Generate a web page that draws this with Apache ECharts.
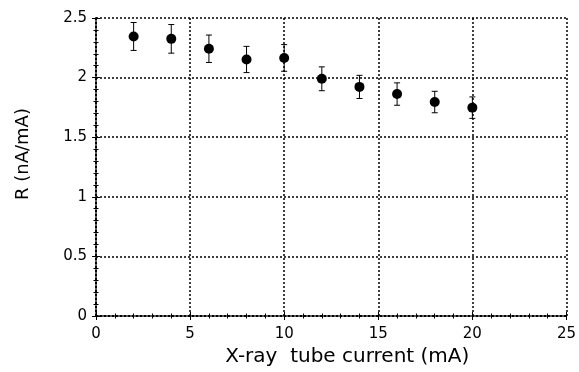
<!DOCTYPE html>
<html>
<head>
<meta charset="utf-8">
<script src="https://cdn.jsdelivr.net/npm/echarts@6/dist/echarts.min.js"></script>
<style>
  html, body { margin: 0; padding: 0; background: #fff; }
  #chart { width: 579px; height: 372px; }
</style>
</head>
<body>
<div id="chart"></div>
<script>
// tube current (mA)
const current = [2, 4, 6, 8, 10, 12, 14, 16, 18, 20];
// R (nA/mA)
const ratio = [2.345, 2.325, 2.242, 2.152, 2.165, 1.99, 1.922, 1.862, 1.795, 1.748];
// error bar half-widths
const errs = [0.117, 0.12, 0.115, 0.11, 0.112, 0.1, 0.097, 0.094, 0.09, 0.09];

const font = "'DejaVu Sans', sans-serif";
const dotted = { color: "#000", width: 1.5, type: [2, 2] };

const chart = echarts.init(document.getElementById("chart"));

// top / right copies of the axes, ticks only (closed frame)
function frameAxis(pos) {
  const isX = pos === "top";
  return {
    type: "value",
    position: pos,
    min: 0,
    max: isX ? 25 : 2.5,
    interval: isX ? 5 : 0.5,
    axisLine: { show: true, lineStyle: dotted },
    axisTick: { show: true, inside: true, length: 4, lineStyle: { color: "#000" } },
    minorTick: { show: true, splitNumber: 5, length: 2.5, lineStyle: { color: "#000" } },
    axisLabel: { show: false },
    splitLine: { show: false }
  };
}

chart.setOption({
  animation: false,
  grid: { left: 96, right: 11, top: 18, bottom: 54 },
  xAxis: [
    {
      type: "value",
      min: 0,
      max: 25,
      interval: 5,
      name: "X-ray  tube current (mA)",
      nameLocation: "middle",
      nameGap: 31,
      nameTextStyle: { color: "#000", fontSize: 20, fontFamily: font, padding: [0, 0, 0, 32] },
      axisLine: { show: true, lineStyle: dotted },
      axisTick: { show: true, inside: true, length: 4, lineStyle: { color: "#000" } },
      minorTick: { show: true, splitNumber: 5, length: 2.5, lineStyle: { color: "#000" } },
      axisLabel: { color: "#000", fontSize: 15, fontFamily: font, margin: 11 },
      splitLine: { show: true, lineStyle: dotted }
    },
    frameAxis("top")
  ],
  yAxis: [
    {
      type: "value",
      min: 0,
      max: 2.5,
      interval: 0.5,
      name: "R (nA/mA)",
      nameLocation: "middle",
      nameGap: 64,
      nameTextStyle: { color: "#000", fontSize: 18, fontFamily: font, padding: [0, 0, 0, 26] },
      axisLine: { show: true, lineStyle: dotted },
      axisTick: { show: true, inside: true, length: 4, lineStyle: { color: "#000" } },
      minorTick: { show: true, splitNumber: 5, length: 2.5, lineStyle: { color: "#000" } },
      axisLabel: { color: "#000", fontSize: 15, fontFamily: font, margin: 9 },
      splitLine: { show: true, lineStyle: dotted }
    },
    frameAxis("right")
  ],
  series: [
    {
      type: "custom",
      renderItem: function (params, api) {
        const x = api.value(0);
        const top = api.coord([x, api.value(1)]);
        const bot = api.coord([x, api.value(2)]);
        const w = 3;
        const style = { stroke: "#000", lineWidth: 1 };
        return {
          type: "group",
          children: [
            { type: "line", shape: { x1: top[0], y1: top[1], x2: bot[0], y2: bot[1] }, style: style },
            { type: "line", shape: { x1: top[0] - w, y1: top[1], x2: top[0] + w, y2: top[1] }, style: style },
            { type: "line", shape: { x1: bot[0] - w, y1: bot[1], x2: bot[0] + w, y2: bot[1] }, style: style }
          ]
        };
      },
      data: current.map((c, i) => [c, ratio[i] + errs[i], ratio[i] - errs[i]]),
      z: 3
    },
    {
      type: "scatter",
      symbol: "circle",
      symbolSize: 10,
      itemStyle: { color: "#000", opacity: 1 },
      data: current.map((c, i) => [c, ratio[i]]),
      z: 4
    }
  ]
});
</script>
</body>
</html>
